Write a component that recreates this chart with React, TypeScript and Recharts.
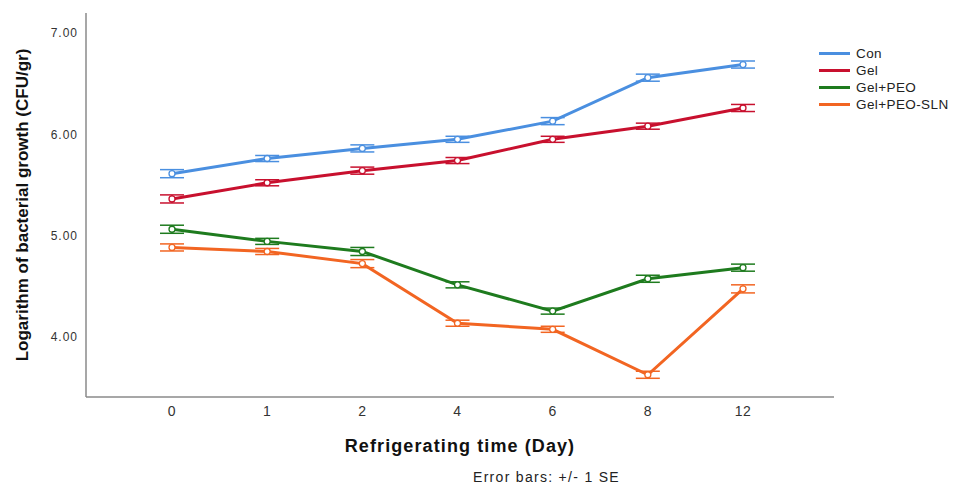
import React from "react"
import { LineChart, Line, XAxis, YAxis, ErrorBar, Label } from "recharts"

const days = ["0", "1", "2", "4", "6", "8", "12"]
const yTicks = [4, 5, 6, 7]

const conValues = [5.61, 5.76, 5.86, 5.95, 6.13, 6.56, 6.69]
const gelValues = [5.36, 5.52, 5.64, 5.74, 5.95, 6.08, 6.26]
const peoValues = [5.06, 4.94, 4.84, 4.51, 4.25, 4.57, 4.68]
const slnValues = [4.88, 4.84, 4.72, 4.13, 4.07, 3.62, 4.47]

const conErr = [0.04, 0.03, 0.035, 0.03, 0.035, 0.035, 0.035]
const gelErr = [0.04, 0.03, 0.035, 0.03, 0.03, 0.03, 0.035]
const peoErr = [0.04, 0.03, 0.04, 0.03, 0.03, 0.035, 0.035]
const slnErr = [0.035, 0.03, 0.04, 0.03, 0.03, 0.035, 0.04]

const series = [
    { key: "con", name: "Con", color: "#4a8fe0" },
    { key: "gel", name: "Gel", color: "#c8102e" },
    { key: "peo", name: "Gel+PEO", color: "#1e7b1e" },
    { key: "sln", name: "Gel+PEO-SLN", color: "#f26522" },
]

const data = days.map((d, i) => ({
    day: d,
    con: conValues[i],
    conErr: conErr[i],
    gel: gelValues[i],
    gelErr: gelErr[i],
    peo: peoValues[i],
    peoErr: peoErr[i],
    sln: slnValues[i],
    slnErr: slnErr[i],
}))

const font = "'Liberation Sans', Arial, sans-serif"

function LegendBox() {
    return (
        <div style={{ position: "absolute", left: 819, top: 45, fontFamily: font, fontSize: 13.5, letterSpacing: 0.4, color: "#222" }}>
            {series.map((s) => (
                <div key={s.key} style={{ display: "flex", alignItems: "center", height: 17 }}>
                    <span style={{ display: "inline-block", width: 31, height: 3.5, background: s.color, marginRight: 6 }} />
                    <span>{s.name}</span>
                </div>
            ))}
        </div>
    )
}

export default function App() {
    return (
        <div style={{ position: "absolute", left: 0, top: 0, width: 966, height: 486, background: "#fff" }}>
            <LineChart width={966} height={486} data={data} margin={{ top: 13, right: 132, bottom: 0, left: 26 }}>
                <XAxis
                    dataKey="day"
                    padding={{ left: 86, right: 91 }}
                    tickLine={false}
                    tickSize={0}
                    tickMargin={9}
                    axisLine={{ stroke: "#8a8a8a", strokeWidth: 1.5 }}
                    tick={{ fill: "#333", fontSize: 14, fontFamily: font, letterSpacing: 0.5 }}
                    height={89}
                >
                    <Label
                        value="Refrigerating time (Day)"
                        position="insideTop"
                        offset={42}
                        style={{ fill: "#111", fontSize: 18, fontWeight: "bold", fontFamily: font, letterSpacing: 1.1 }}
                    />
                </XAxis>
                <YAxis
                    domain={[3.4, 7.2]}
                    ticks={yTicks}
                    tickFormatter={(v) => Number(v).toFixed(2)}
                    tickLine={false}
                    tickSize={0}
                    tickMargin={8}
                    width={60}
                    axisLine={{ stroke: "#8a8a8a", strokeWidth: 1.5 }}
                    tick={{ fill: "#333", fontSize: 12, fontFamily: font, letterSpacing: 1 }}
                >
                    <Label
                        value="Logarithm of bacterial growth  (CFU/gr)"
                        angle={-90}
                        position="insideLeft"
                        offset={-4}
                        style={{ textAnchor: "middle", fill: "#111", fontSize: 17, fontWeight: "bold", fontFamily: font }}
                    />
                </YAxis>
                {series.map((s) => (
                    <Line
                        key={s.key}
                        dataKey={s.key}
                        name={s.name}
                        stroke={s.color}
                        strokeWidth={3}
                        dot={{ r: 3, stroke: s.color, strokeWidth: 1.3, fill: "#fff" }}
                        activeDot={false}
                        isAnimationActive={false}
                    >
                        <ErrorBar
                            dataKey={s.key + "Err"}
                            width={12}
                            stroke={s.color}
                            strokeWidth={1.5}
                            direction="y"
                            isAnimationActive={false}
                        />
                    </Line>
                ))}
            </LineChart>
            <LegendBox />
            <div
                style={{
                    position: "absolute",
                    left: 473,
                    top: 469,
                    fontFamily: font,
                    fontSize: 14,
                    letterSpacing: 1.3,
                    color: "#222",
                    whiteSpace: "nowrap",
                }}
            >
                Error bars: +/- 1 SE
            </div>
        </div>
    )
}
